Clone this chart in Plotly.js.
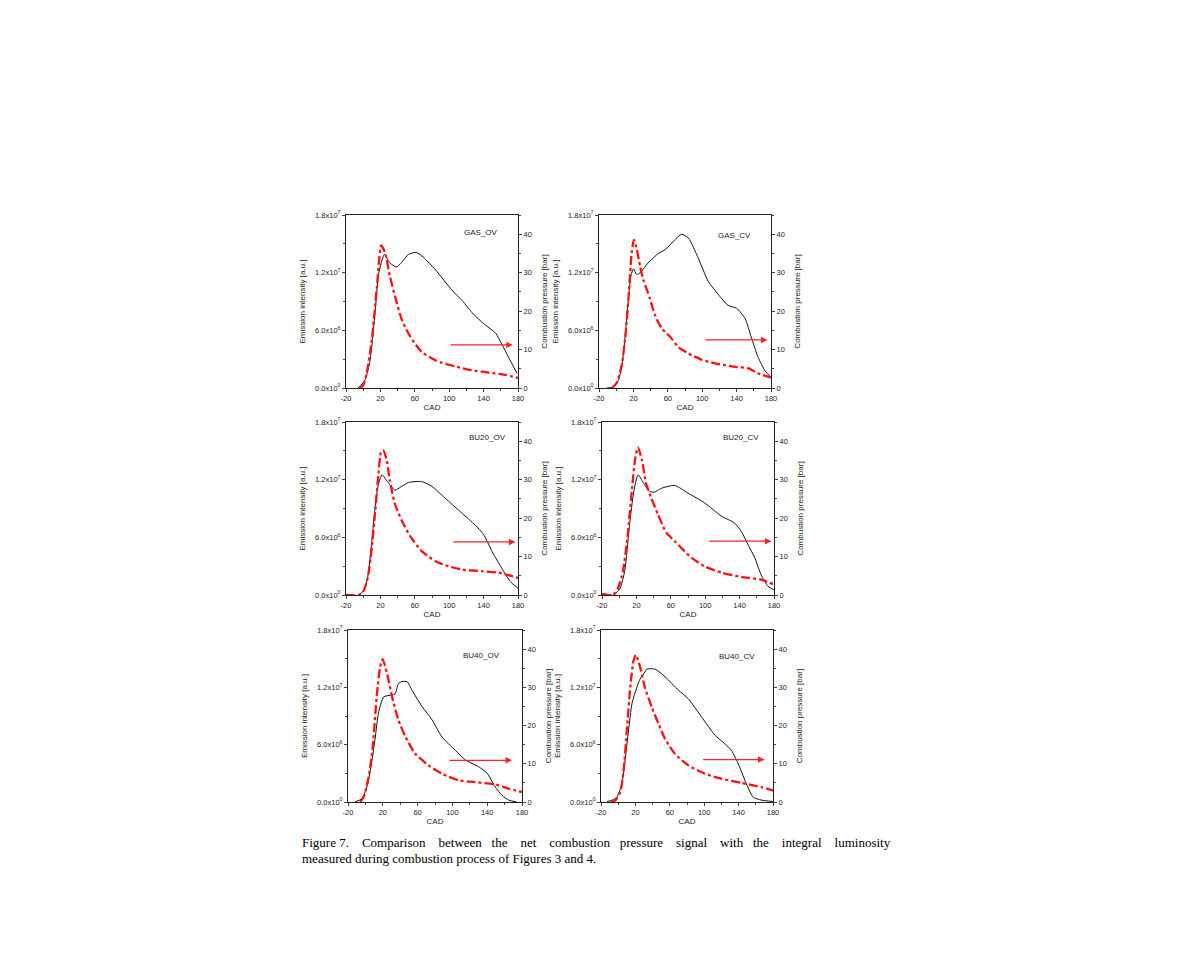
<!DOCTYPE html>
<html><head><meta charset="utf-8">
<script src="https://cdn.plot.ly/plotly-3.0.1.min.js"></script>
<style>html,body{margin:0;padding:0;background:#fff}</style>
</head><body><div id="chart" style="width:1200px;height:960px"></div>
<script>
// ---------- data ----------
const panelNames = ["GAS_OV","GAS_CV","BU20_OV","BU20_CV","BU40_OV","BU40_CV"];

// Emission intensity (black solid), units of 1e6 a.u.
const emisCAD = [
 [-6,2,8,14,18,24.7,31,39,45,52.6,62,70,84,103,115,128,140,154,161,169,179],
 [-11,-3.3,2.5,6.4,10,14,17,20,24,29,37,49,57,68,76,84,95.5,107,119,130,140,150,157,165,173,180],
 [-6,0.2,5.2,10,13.8,17.7,22,29,37,43,52.6,68,80,95,115,130,140,150,161,171,180],
 [-7,0.5,6.4,12,17,22,28,35,41,49,64.5,80,99,119,134,142,150,157.5,165,173,180],
 [-12,-4,1.8,7.6,11.4,15,21,30.6,34,38,42,47.8,53.6,65,76.6,88,103.4,115,130,140,149,157,164.7,174],
 [-13,-7,-1.5,4.3,8,12,16,19.5,25,31,33,43,54.5,70,81.5,97,112.4,124,131.7,141,149,157,166.5,180]
];
const emisVal = [
 [0,0.8,2.9,8.1,11.9,13.9,13.0,12.6,13.1,13.9,14.1,13.6,12.3,10.2,9.1,7.7,6.7,5.7,4.6,3.2,1.5],
 [0,0.1,0.8,2.2,5.0,9.1,11.6,12.4,11.8,12.1,13.0,14.0,14.4,15.4,16.0,15.6,13.5,11.1,9.7,8.6,8.3,7.2,5.3,3.2,1.8,1.1],
 [0,0.4,1.8,5.6,9.1,11.5,12.5,11.7,10.9,11.2,11.7,11.8,11.3,10.1,8.5,7.3,6.3,4.5,2.8,1.4,0.7],
 [0,0.6,2.5,7.3,10.8,12.5,11.7,10.8,10.7,11.1,11.4,10.6,9.6,8.2,7.5,6.6,5.2,3.9,2.1,0.9,0.55],
 [0,0.35,1.6,4.4,6.8,9.3,11.0,11.2,11.3,12.4,12.6,12.6,11.7,10.0,8.6,6.8,5.4,4.4,3.7,3.0,1.6,0.7,0.2,0],
 [0.05,0.2,0.5,1.9,4.4,7.5,10.3,11.4,12.8,13.6,13.9,13.9,13.1,11.7,10.8,8.9,7.0,6.1,5.4,3.7,1.9,0.5,0.2,0.05]
];

// Combustion pressure (red dash-dot), bar
const presCAD = [
 [-4,0,4,10,16,21,25.4,31,37,45,54.6,68,84,91,107,122,146,166,180],
 [-5,0.5,6.4,11,15,18,20.6,24,27.7,31.5,39,45,53,62.5,72,84,99,115,138,154,165,177,180],
 [-20,-5,0.2,5.2,10,14,17.7,21,23.5,27.4,31,37,45,54.6,68,84,99,115,138,157.6,173,180],
 [-20,-7,-1.4,4.4,10,15,18.8,22,26.5,31.5,37,45,54.8,64.5,72,84,99,119,142,165,180],
 [-6,-2,3.8,8.4,13.3,17,19.8,24.8,30.6,38,46,57,72.6,88,107,126,149,164.7,180],
 [-9,-3.4,2.4,6.3,10,14,17.8,20.5,25.6,31,39,47,54.5,66,81.5,100.8,120,143,166.5,180]
];
const presVal = [
 [0,0.7,3.8,12.5,26.5,37.1,35.2,29.1,23.8,17.7,13.4,9.4,7.2,6.6,5.6,4.8,4.0,3.4,2.6],
 [0,1.3,5.9,14.2,25.6,35.2,38.5,36.0,31.7,28.2,23.4,19.0,15.5,13.4,10.7,9.0,7.4,6.4,5.5,5.1,3.8,2.9,2.7],
 [0,0,1.0,4.4,12.3,21.9,31.5,37.4,37.6,35.0,29.7,23.6,19.3,15.3,11.4,8.8,7.5,6.6,6.2,5.8,4.9,4.4],
 [0.3,0,1.8,6.2,15.8,28.0,35.8,38.4,35.0,28.8,25.4,21.0,16.2,14.0,12.3,9.7,7.5,5.8,4.7,4.0,2.7],
 [0,1.3,6.6,14.4,28.4,35.4,37.4,33.7,27.6,21.4,17.1,12.7,9.6,7.4,5.7,5.2,4.6,3.5,2.6],
 [0,0.4,2.6,8.3,18.7,30.0,37.0,38.5,35.2,30.0,24.8,20.4,16.5,12.6,9.6,7.4,6.1,5.0,3.9,3.0]
];

// label & arrow positions (data coords, right axis)
const labelX = [137,138,144,142,134,138.5];
const labelY = [40.4,39.7,40.9,40.9,38.2,38.1];
const arrowTailX = [100,102,103,103,95,97];
const arrowHeadX = [174,176,177,177,168.5,170];
const arrowY = [11.2,12.5,13.8,14.0,10.9,11.1];

const leftTickVals = [0,6,12,18];
const leftTickText = ["0.0x10<sup>0</sup>","6.0x10<sup>6</sup>","1.2x10<sup>7</sup>","1.8x10<sup>7</sup>"];
const rightTickVals = [0,10,20,30,40];
const xTickVals = [-20,20,60,100,140,180];
const xTickText = ["-20","20","60","100","140","180"];

const captionLine1 = ["Figure 7.","Comparison","between","the","net","combustion","pressure","signal","with","the","integral","luminosity"];
const captionLine2 = "measured during combustion process of Figures 3 and 4.";

// ---------- layout ----------
const W=1200,H=960;
const boxes = [ // [left,right,top,bottom] px
 [346,518,215,388],[599,771,215,388],
 [346,518,422,595],[602,774,422,595],
 [348,522,630,802],[601,773,630,802]
];
const tickFont = {family:"Liberation Sans, Arial", size:7.5, color:"#222"};
const titleFont = {family:"Liberation Sans, Arial", size:8, color:"#222"};
const traces=[]; const layout={width:W,height:H,margin:{l:0,r:0,t:0,b:0},showlegend:false,
  paper_bgcolor:"#fff",plot_bgcolor:"#fff",annotations:[]};

boxes.forEach((b,i)=>{
  const n=i+1;
  const xa='x'+(n===1?'':n), ya1='y'+(2*n-1===1?'':2*n-1), ya2='y'+(2*n);
  const xk='xaxis'+(n===1?'':n), yk1='yaxis'+(2*n-1===1?'':2*n-1), yk2='yaxis'+(2*n);
  const dx=[b[0]/W,b[1]/W], dy=[1-b[3]/H,1-b[2]/H];
  layout[xk]={domain:dx,anchor:ya1,range:[-20,180],tickvals:xTickVals,ticktext:xTickText,ticks:'outside',ticklen:3,
    minor:{dtick:20,tick0:0,ticks:'outside',ticklen:2,showgrid:false},
    showline:true,linecolor:'#222',linewidth:1,mirror:true,showgrid:false,zeroline:false,
    tickfont:tickFont,title:{text:'CAD',font:titleFont,standoff:2}};
  layout[yk1]={domain:dy,anchor:xa,range:[0,18],tickvals:leftTickVals,ticktext:leftTickText,
    ticks:'outside',ticklen:3,minor:{dtick:3,ticks:'outside',ticklen:2,showgrid:false},
    showline:true,linecolor:'#222',linewidth:1,showgrid:false,zeroline:false,tickfont:tickFont,
    title:{text:'Emission intensity [a.u.]',font:titleFont,standoff:8}};
  layout[yk2]={domain:dy,anchor:xa,overlaying:ya1,side:'right',range:[0,45],tickvals:rightTickVals,
    ticks:'outside',ticklen:3,minor:{dtick:5,ticks:'outside',ticklen:2,showgrid:false},
    showline:true,linecolor:'#222',linewidth:1,showgrid:false,zeroline:false,tickfont:tickFont,
    title:{text:'Combustion pressure [bar]',font:titleFont,standoff:10}};
  traces.push({x:emisCAD[i],y:emisVal[i],xaxis:xa,yaxis:ya1,mode:'lines',
    line:{color:'#111',width:1,shape:'spline',smoothing:0.6},hoverinfo:'skip'});
  traces.push({x:presCAD[i],y:presVal[i],xaxis:xa,yaxis:ya2,mode:'lines',
    line:{color:'#ff1010',width:2.3,dash:'dashdot',shape:'spline',smoothing:0.6},hoverinfo:'skip'});
  layout.annotations.push({xref:xa,yref:ya2,x:labelX[i],y:labelY[i],text:panelNames[i],showarrow:false,
    font:{family:"Liberation Sans, Arial",size:8,color:'#222'}});
  layout.annotations.push({xref:xa,yref:ya2,axref:xa,ayref:ya2,x:arrowHeadX[i],y:arrowY[i],
    ax:arrowTailX[i],ay:arrowY[i],text:'',showarrow:true,arrowhead:2,arrowsize:1,arrowwidth:1.3,arrowcolor:'#ff2020'});
});

// caption, line 1 justified word by word
const capFont={family:"Liberation Serif, Times New Roman",size:13,color:'#000'};
const gaps=[4,4,3,4,4,3,4,4,3,4,4];
let line1=captionLine1[0];
for(let k=1;k<captionLine1.length;k++){ line1+='&nbsp;'.repeat(gaps[k-1])+captionLine1[k]; }
layout.annotations.push({xref:'paper',yref:'paper',x:300/W,y:1-842/H,xanchor:'left',yanchor:'middle',
  text:line1,showarrow:false,font:capFont});
layout.annotations.push({xref:'paper',yref:'paper',x:300/W,y:1-858/H,xanchor:'left',yanchor:'middle',
  text:captionLine2,showarrow:false,font:capFont});

Plotly.newPlot('chart',traces,layout,{staticPlot:true});
</script></body></html>
